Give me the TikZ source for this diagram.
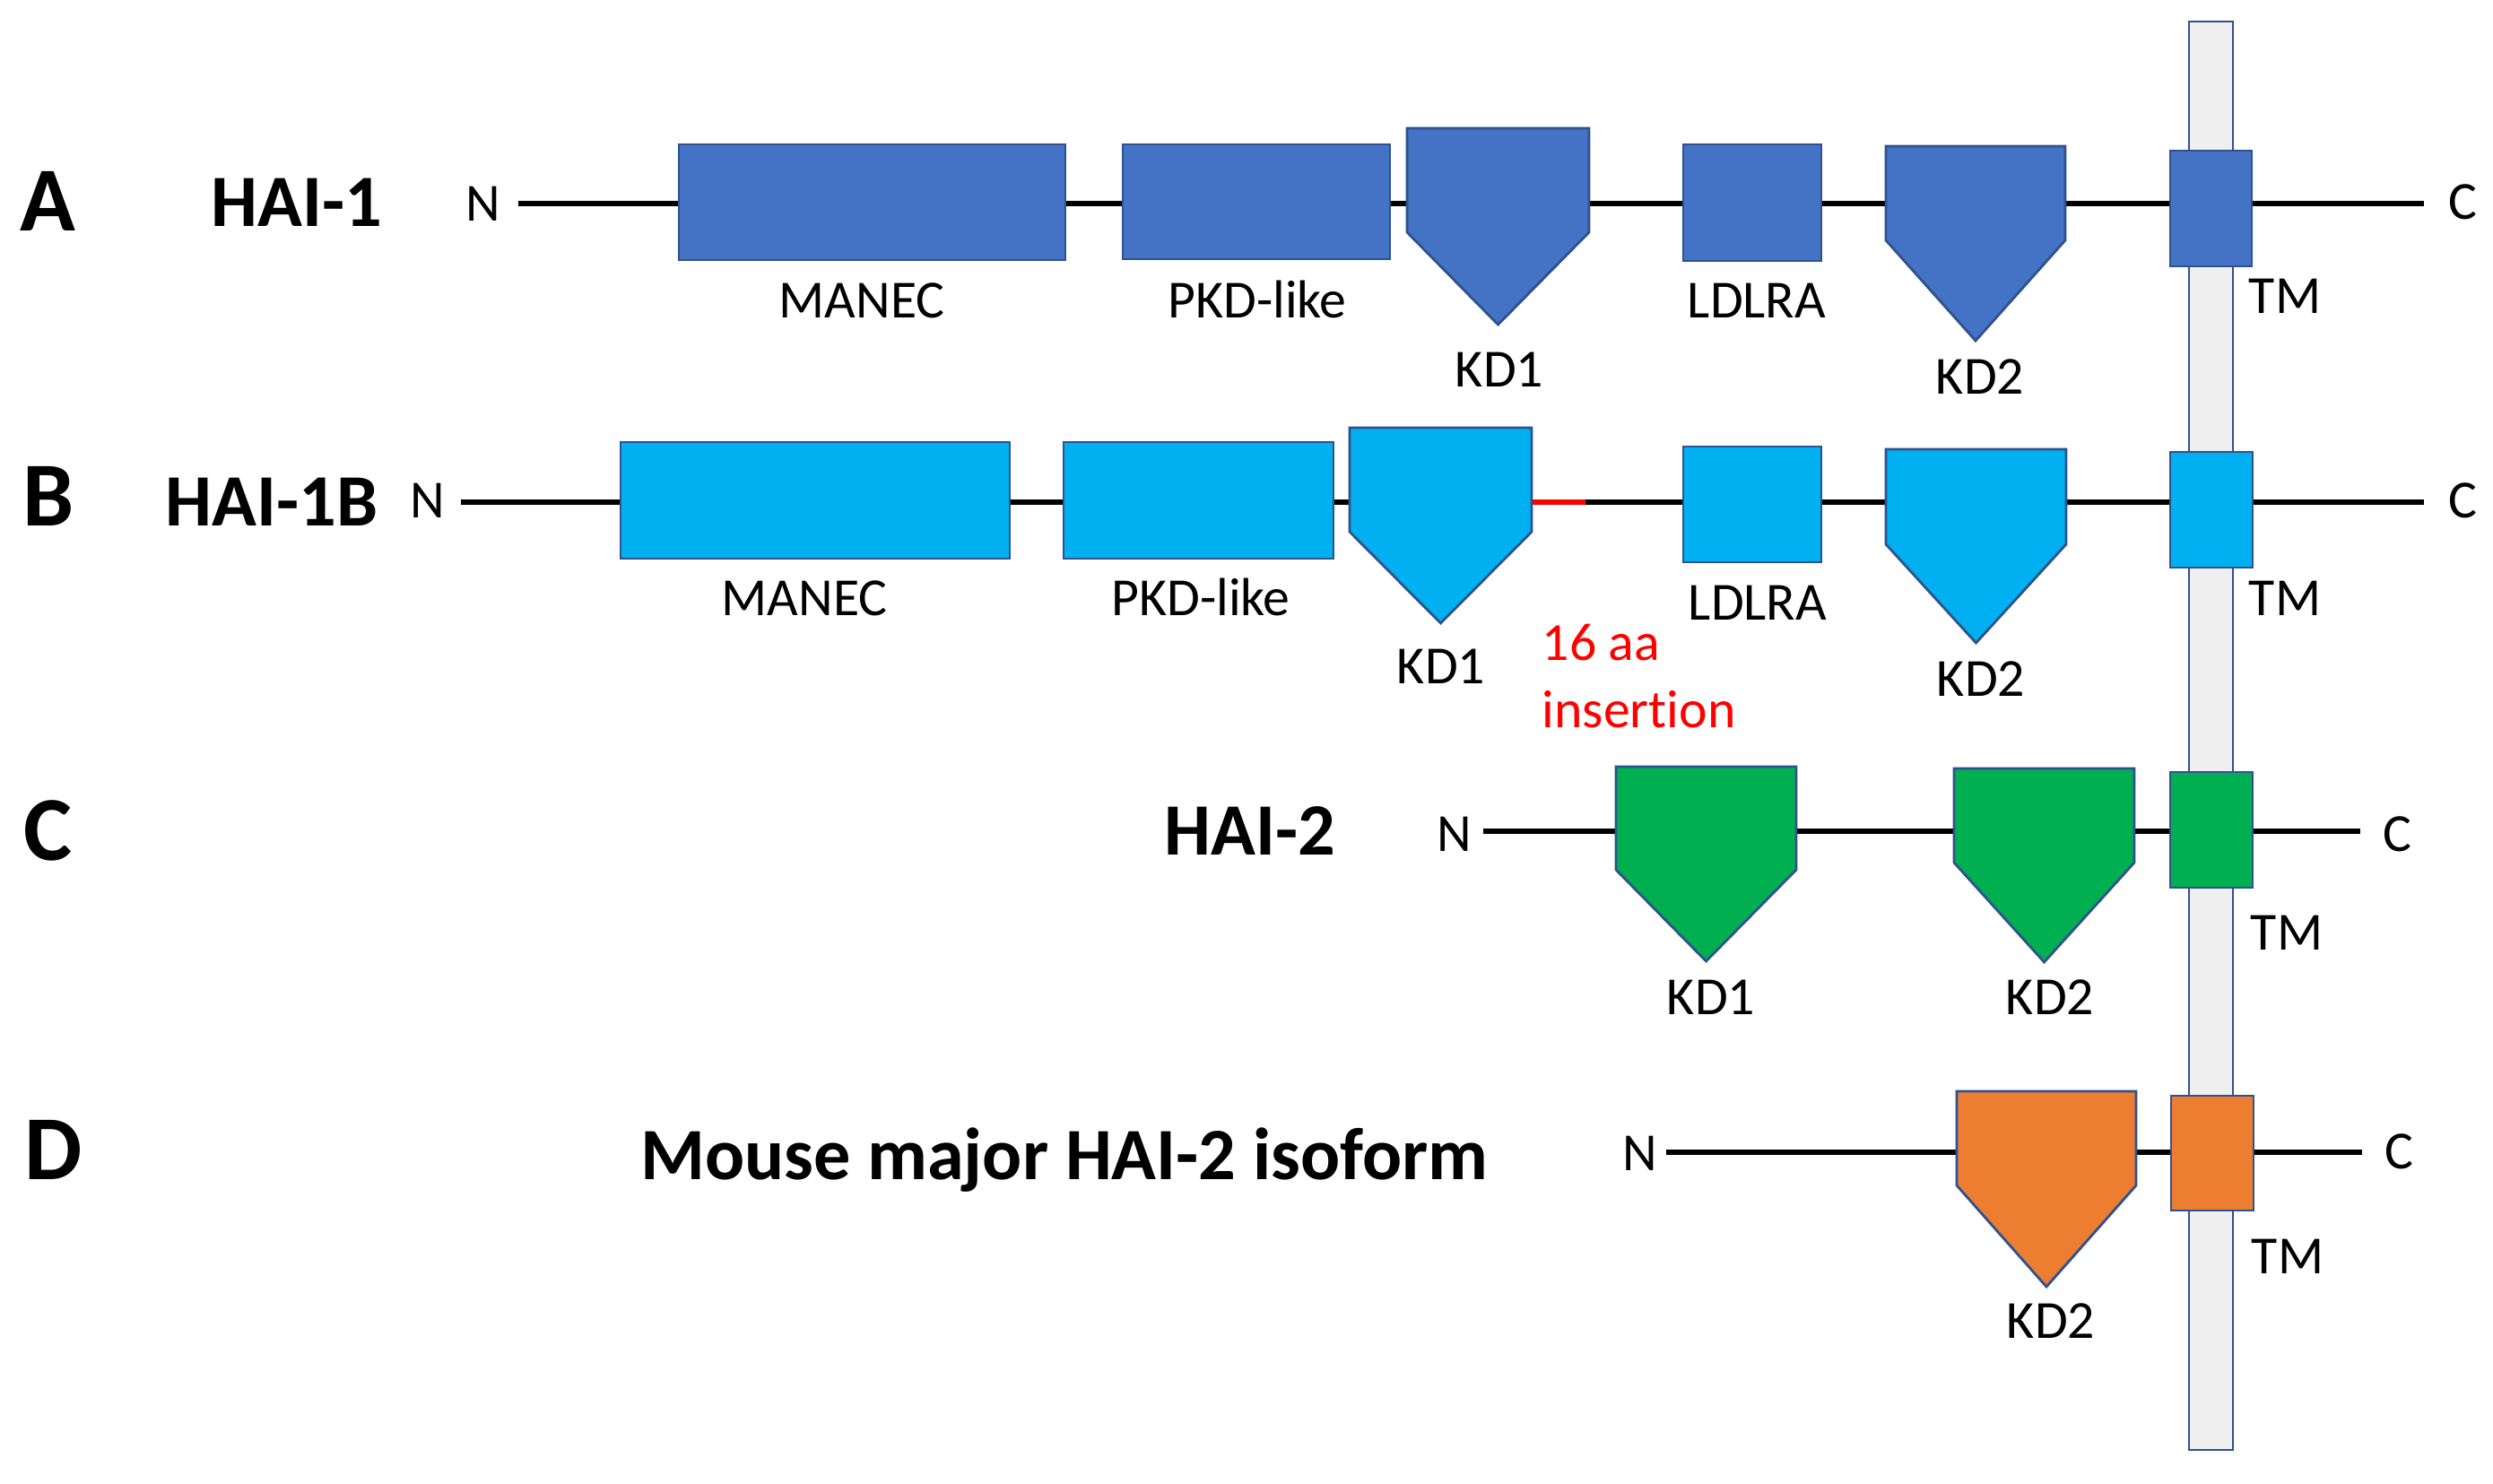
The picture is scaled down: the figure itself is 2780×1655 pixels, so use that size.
\documentclass[tikz,border=0pt]{standalone}
\usepackage{fontspec}
\setmainfont{Carlito}[Ligatures=NoCommon]
\usetikzlibrary{fit}
\definecolor{cA}{HTML}{4472C4}
\definecolor{cB}{HTML}{00B0F0}
\definecolor{cC}{HTML}{00B050}
\definecolor{cD}{HTML}{ED7D31}
\definecolor{outl}{HTML}{2F528F}
\definecolor{barfill}{HTML}{EFEFEF}
\definecolor{insred}{HTML}{FF0000}
\tikzset{
  dom/.style={draw=outl, line width=0.8pt, inner sep=0pt, outer sep=0pt},
  bb/.style={line width=1.7pt, black},
  lab/.style={font=\fontsize{17}{20}\selectfont, anchor=base, inner sep=0pt},
  rowname/.style={font=\fontsize{23.4}{27}\selectfont\bfseries, anchor=base, inner sep=0pt},
  letter/.style={font=\fontsize{29}{34}\selectfont\bfseries, anchor=base, inner sep=0pt},
}
\newcommand\kdshape[6]{%
  \draw[dom, fill=#6] (#1,#3) -- (#2,#3) -- (#2,#4) -- ({(#1+#2)/2},#5) -- (#1,#4) -- cycle;}
\begin{document}
\begin{tikzpicture}[x=0.01cm, y=-0.01cm]
\useasboundingbox (0,0) rectangle (2780,1655);
\fill[white] (0,0) rectangle (2780,1655);

% membrane bar
\node[dom, fill=barfill, fit={(2441,24) (2490,1617)}] (bar) {};

% ---------------- Row A ----------------
\node[letter] (lA) at (53,258) {A};
\node[rowname] (nameA) at (331,253) {HAI-1};
\node[lab] (NA) at (539,247) {N};
\node[lab] (CA) at (2746,245) {C};
\coordinate (aS) at (578,227);
\coordinate (aE) at (2703,227);
\draw[bb] (aS) -- (aE);
\node[dom, fill=cA, fit={(757,161) (1188,290)}] (manecA) {};
\node[dom, fill=cA, fit={(1252,161) (1550,289)}] (pkdA) {};
\kdshape{1569}{1772}{143}{259}{362}{cA}
\node[dom, fill=cA, fit={(1877,161) (2031,291)}] (ldlA) {};
\kdshape{2103}{2303}{163}{268}{380}{cA}
\node[dom, fill=cA, fit={(2420,168) (2511,297)}] (tmA) {};
\node[lab] (tMANECA) at (961,355) {MANEC};
\node[lab] (tPKDA) at (1402,355) {PKD-like};
\node[lab] (tKD1A) at (1672,432) {KD1};
\node[lab] (tLDLA) at (1959,355) {LDLRA};
\node[lab] (tKD2A) at (2208,440) {KD2};
\node[lab] (tTMA) at (2548,350) {TM};

% ---------------- Row B ----------------
\node[letter] (lB) at (54,587) {B};
\node[rowname] (nameB) at (303,587) {HAI-1B};
\node[lab] (NB) at (477,578) {N};
\node[lab] (CB) at (2746,578) {C};
\coordinate (bS) at (514,560);
\coordinate (bE) at (2703,560);
\coordinate (bR1) at (1708,560);
\coordinate (bR2) at (1768,560);
\draw[bb] (bS) -- (bE);
\draw[bb, insred] (bR1) -- (bR2);
\node[dom, fill=cB, fit={(692,493) (1126,623)}] (manecB) {};
\node[dom, fill=cB, fit={(1186,493) (1487,623)}] (pkdB) {};
\kdshape{1505}{1708}{477}{593}{695}{cB}
\node[dom, fill=cB, fit={(1877,498) (2031,627)}] (ldlB) {};
\kdshape{2103}{2304}{501}{607}{717}{cB}
\node[dom, fill=cB, fit={(2420,504) (2512,633)}] (tmB) {};
\node[lab] (tMANECB) at (897,687) {MANEC};
\node[lab] (tPKDB) at (1339,687) {PKD-like};
\node[lab] (tKD1B) at (1607,763) {KD1};
\node[lab, anchor=base west, text=insred] (ins1) at (1719,737) {16 aa};
\node[lab, anchor=base west, text=insred] (ins2) at (1719,812) {insertion};
\node[lab] (tLDLB) at (1960,692) {LDLRA};
\node[lab] (tKD2B) at (2209,777) {KD2};
\node[lab] (tTMB) at (2548,687) {TM};

% ---------------- Row C ----------------
\node[letter] (lC) at (53,960) {C};
\node[rowname] (nameC) at (1394,953) {HAI-2};
\node[lab] (NC) at (1622,950) {N};
\node[lab] (CC) at (2673,950) {C};
\coordinate (cS) at (1654,927);
\coordinate (cE) at (2632,927);
\draw[bb] (cS) -- (cE);
\kdshape{1802}{2003}{855}{970}{1072}{cC}
\kdshape{2179}{2380}{857}{962}{1073}{cC}
\node[dom, fill=cC, fit={(2420,861) (2512,990)}] (tmC) {};
\node[lab] (tKD1C) at (1908,1132) {KD1};
\node[lab] (tKD2C) at (2286,1132) {KD2};
\node[lab] (tTMC) at (2550,1060) {TM};

% ---------------- Row D ----------------
\node[letter] (lD) at (60,1315) {D};
\node[rowname] (nameD) at (1187,1315) {Mouse major HAI-2 isoform};
\node[lab] (ND) at (1829,1305) {N};
\node[lab] (CD) at (2675,1303) {C};
\coordinate (dS) at (1858,1285);
\coordinate (dE) at (2634,1285);
\draw[bb] (dS) -- (dE);
\kdshape{2182}{2382}{1217}{1322}{1435}{cD}
\node[dom, fill=cD, fit={(2421,1222) (2513,1350)}] (tmD) {};
\node[lab] (tKD2D) at (2287,1492) {KD2};
\node[lab] (tTMD) at (2551,1420) {TM};
\end{tikzpicture}
\end{document}
